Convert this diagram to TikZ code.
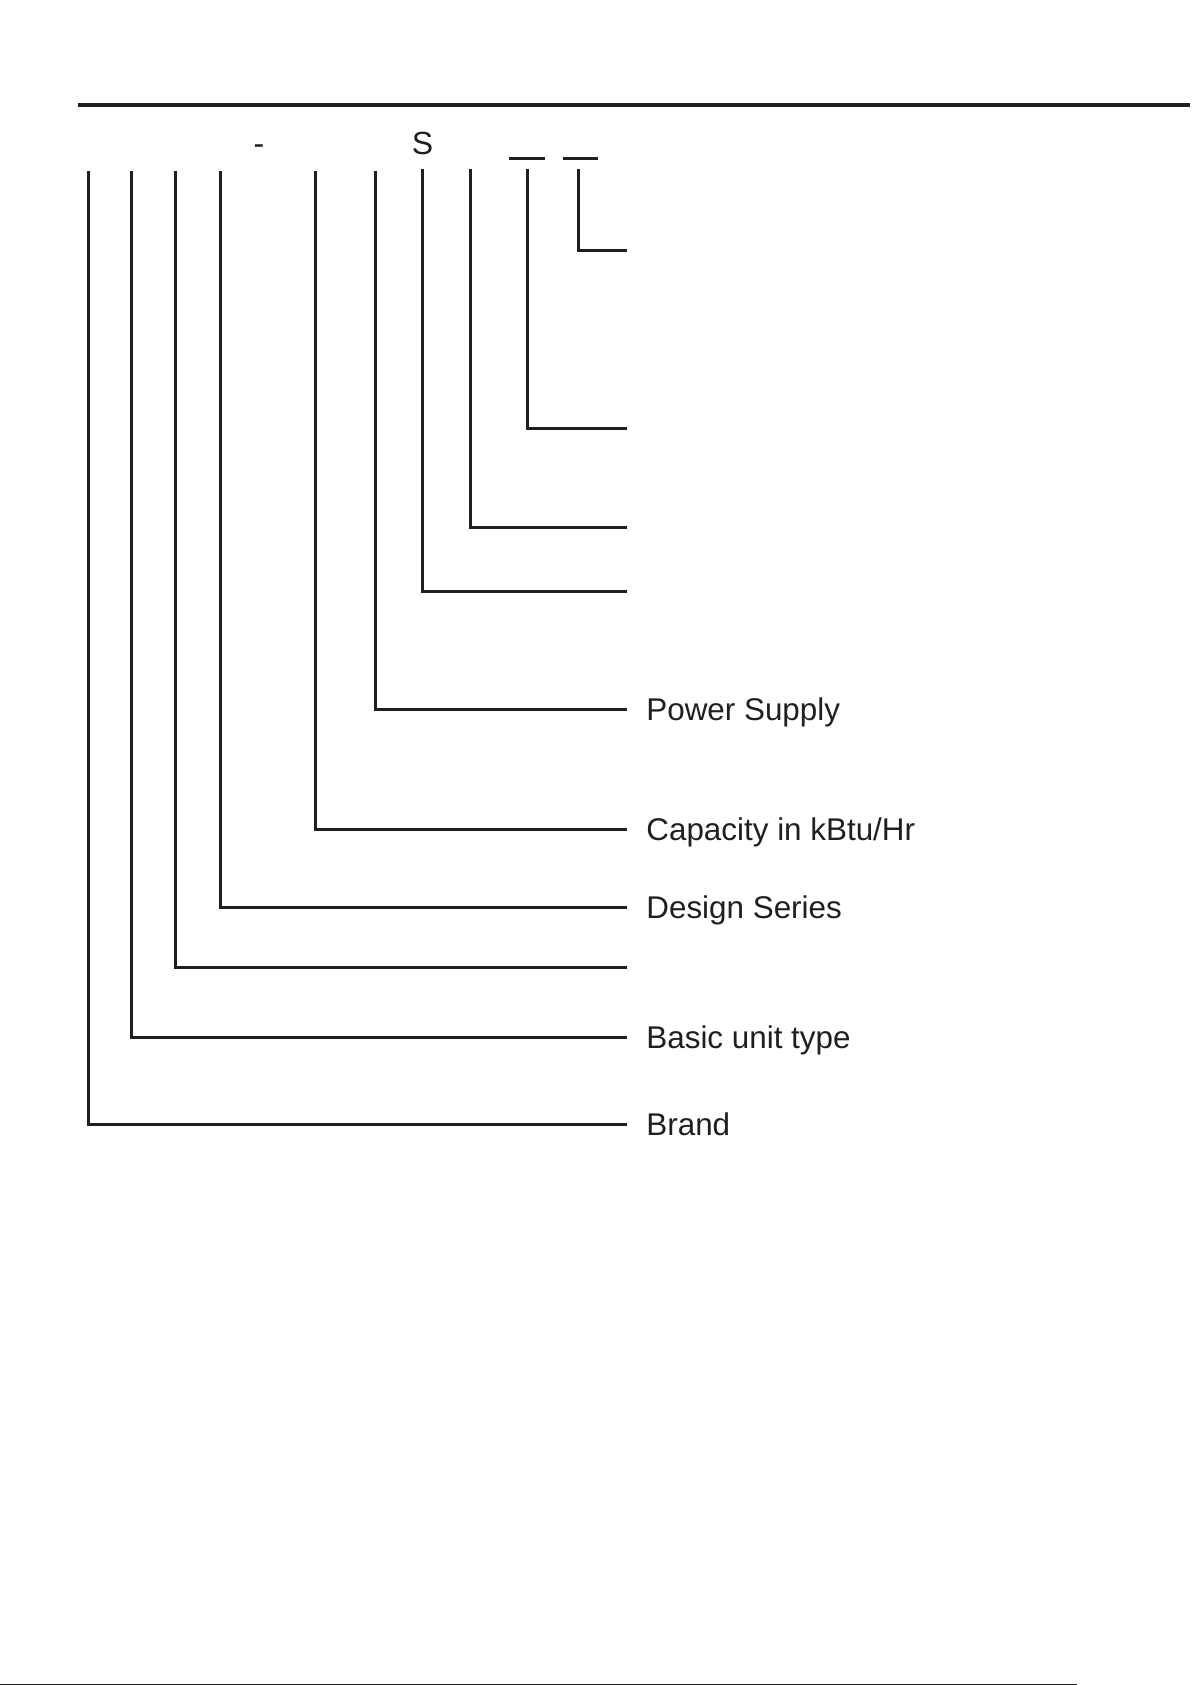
\documentclass[tikz,border=0pt]{standalone}
\usepackage{fontspec}
\setmainfont{Liberation Sans}
\begin{document}
\begin{tikzpicture}[x=0.5pt,y=-0.5pt,
  lead/.style={line width=1.5pt, line join=miter, color=black!88},
  rule/.style={line width=2pt, color=black!88},
  blank/.style={line width=1.2pt, color=black!88},
  lbl/.style={anchor=base west, inner sep=0pt, font=\fontsize{15.7pt}{18pt}\selectfont, text=black!88},
  code/.style={anchor=base, inner sep=0pt, font=\fontsize{16pt}{18pt}\selectfont, text=black!88}]
\useasboundingbox (0,0) rectangle (1192,1685);
% top rule
\coordinate (r1) at (78,105);
\coordinate (r2) at (1190,105);
\draw[rule] (r1) -- (r2);
% bottom thin rule
\coordinate (b1) at (0,1684);
\coordinate (b2) at (1077,1684);
\draw[line width=0.5pt, black!88] (b1) -- (b2);
% code characters
\node[code] (dash) at (259,155) {-};
\node[code] (s) at (422.5,155) {S};
\coordinate (u1a) at (509,158.5);
\coordinate (u1b) at (545,158.5);
\coordinate (u2a) at (563,158.5);
\coordinate (u2b) at (598,158.5);
\draw[blank] (u1a) -- (u1b);
\draw[blank] (u2a) -- (u2b);
% vertical starts
\coordinate (t1) at (88,171);
\coordinate (t2) at (131.5,171);
\coordinate (t3) at (175,171);
\coordinate (t4) at (220.5,171);
\coordinate (t5) at (315,171);
\coordinate (t6) at (375,171);
\coordinate (t7) at (422,169);
\coordinate (t8) at (470.5,169);
\coordinate (t9) at (527.5,169);
\coordinate (t10) at (578.5,169);
% line ends
\coordinate (e1) at (627,1124);
\coordinate (e2) at (627,1037);
\coordinate (e3) at (627,967.5);
\coordinate (e4) at (627,907);
\coordinate (e5) at (627,829);
\coordinate (e6) at (627,709);
\coordinate (e7) at (627,591);
\coordinate (e8) at (627,527);
\coordinate (e9) at (627,428);
\coordinate (e10) at (627,250.5);
% leaders
\foreach \i in {1,...,10} {\draw[lead] (t\i) |- (e\i);}
% labels
\node[lbl] (brand) at (646,1135.3) {Brand};
\node[lbl] (basic) at (646,1048.3) {Basic unit type};
\node[lbl] (design) at (646,918.3) {Design Series};
\node[lbl] (cap) at (646,840.3) {Capacity in kBtu/Hr};
\node[lbl] (power) at (646,720.3) {Power Supply};
\end{tikzpicture}
\end{document}
